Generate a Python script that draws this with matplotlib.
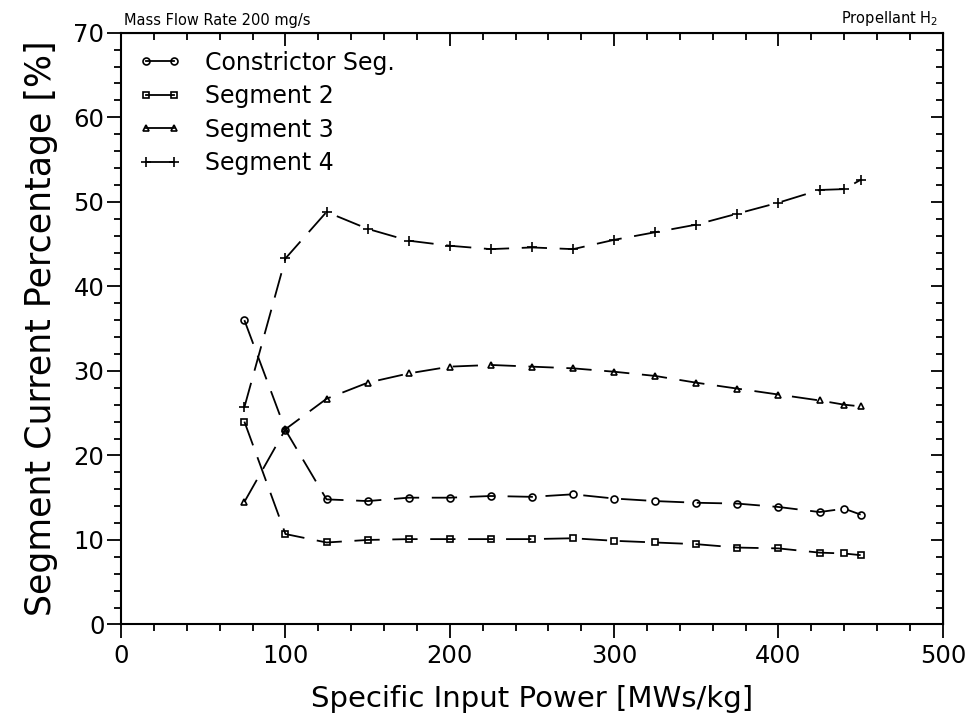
import matplotlib
matplotlib.use('Agg')
import matplotlib.pyplot as plt
from matplotlib.lines import Line2D
from matplotlib.ticker import MultipleLocator

power = [75, 100, 125, 150, 175, 200, 225, 250, 275, 300, 325, 350, 375, 400, 425, 440, 450]
constrictor = [36.0, 23.0, 14.8, 14.6, 15.0, 15.0, 15.2, 15.1, 15.4, 14.9, 14.6, 14.4, 14.3, 13.9, 13.3, 13.7, 13.0]
segment2 = [24.0, 10.7, 9.7, 10.0, 10.1, 10.1, 10.1, 10.1, 10.2, 9.9, 9.7, 9.5, 9.1, 9.0, 8.5, 8.4, 8.2]
segment3 = [14.5, 23.1, 26.7, 28.6, 29.7, 30.5, 30.7, 30.5, 30.3, 29.9, 29.4, 28.6, 27.9, 27.2, 26.5, 26.0, 25.8]
segment4 = [25.7, 43.3, 48.8, 46.8, 45.4, 44.8, 44.4, 44.6, 44.4, 45.5, 46.4, 47.3, 48.6, 49.9, 51.4, 51.5, 52.6]

series = [
    ('Constrictor Seg.', constrictor, 'o'),
    ('Segment 2', segment2, 's'),
    ('Segment 3', segment3, '^'),
    ('Segment 4', segment4, '+'),
]


def set_ticks(axis, major, minor):
    axis.set_major_locator(MultipleLocator(major))
    axis.set_minor_locator(MultipleLocator(minor))


def main():
    plt.rcParams['font.family'] = ['DejaVu Sans']

    fig = plt.figure(figsize=(9.69, 7.27), dpi=100)
    ax = fig.add_axes([0.125, 0.141, 0.848, 0.814])

    style = dict(color='black', lw=1.3, mfc='none', mec='black', mew=1.2)
    handles = []
    for label, values, marker in series:
        ms = 7 if marker == '+' else 5
        ax.plot(power, values, dashes=(14, 7), marker=marker, ms=ms, **style)
        handles.append(Line2D([], [], marker=marker, ms=ms, **style))

    ax.set_xlim(0, 500)
    ax.set_ylim(0, 70)
    set_ticks(ax.xaxis, 100, 20)
    set_ticks(ax.yaxis, 10, 2)
    ax.tick_params(which='both', direction='out', width=1.3, labelsize=17.5,
                   top=False, right=False, pad=2)
    ax.tick_params(which='major', length=10)
    ax.tick_params(which='minor', length=5)
    ax.tick_params(axis='x', pad=4)
    for s in ax.spines.values():
        s.set_linewidth(1.5)

    # top and right ticks point into the frame
    top = ax.secondary_xaxis('top')
    set_ticks(top.xaxis, 100, 20)
    top.set_xticklabels([])
    right = ax.secondary_yaxis('right')
    set_ticks(right.yaxis, 10, 2)
    right.set_yticklabels([])
    for sec in (top, right):
        sec.tick_params(which='both', direction='in', width=1.3)
        sec.tick_params(which='major', length=9)
        sec.tick_params(which='minor', length=5)

    ax.set_xlabel('Specific Input Power [MWs/kg]', fontsize=21, labelpad=12)
    ax.set_ylabel('Segment Current Percentage [%]', fontsize=25, labelpad=11)

    ax.legend(handles, [s[0] for s in series], loc='upper left', frameon=False,
              fontsize=17, numpoints=2, handlelength=1.8, handletextpad=1.0,
              labelspacing=0.4, borderaxespad=0.36)

    ax.text(0.004, 1.008, 'Mass Flow Rate 200 mg/s', transform=ax.transAxes,
            fontsize=10.5, ha='left', va='bottom')
    ax.text(0.995, 1.008, 'Propellant H$_2$', transform=ax.transAxes,
            fontsize=10.5, ha='right', va='bottom')

    fig.savefig('out.png', dpi=100)


if __name__ == '__main__':
    main()
